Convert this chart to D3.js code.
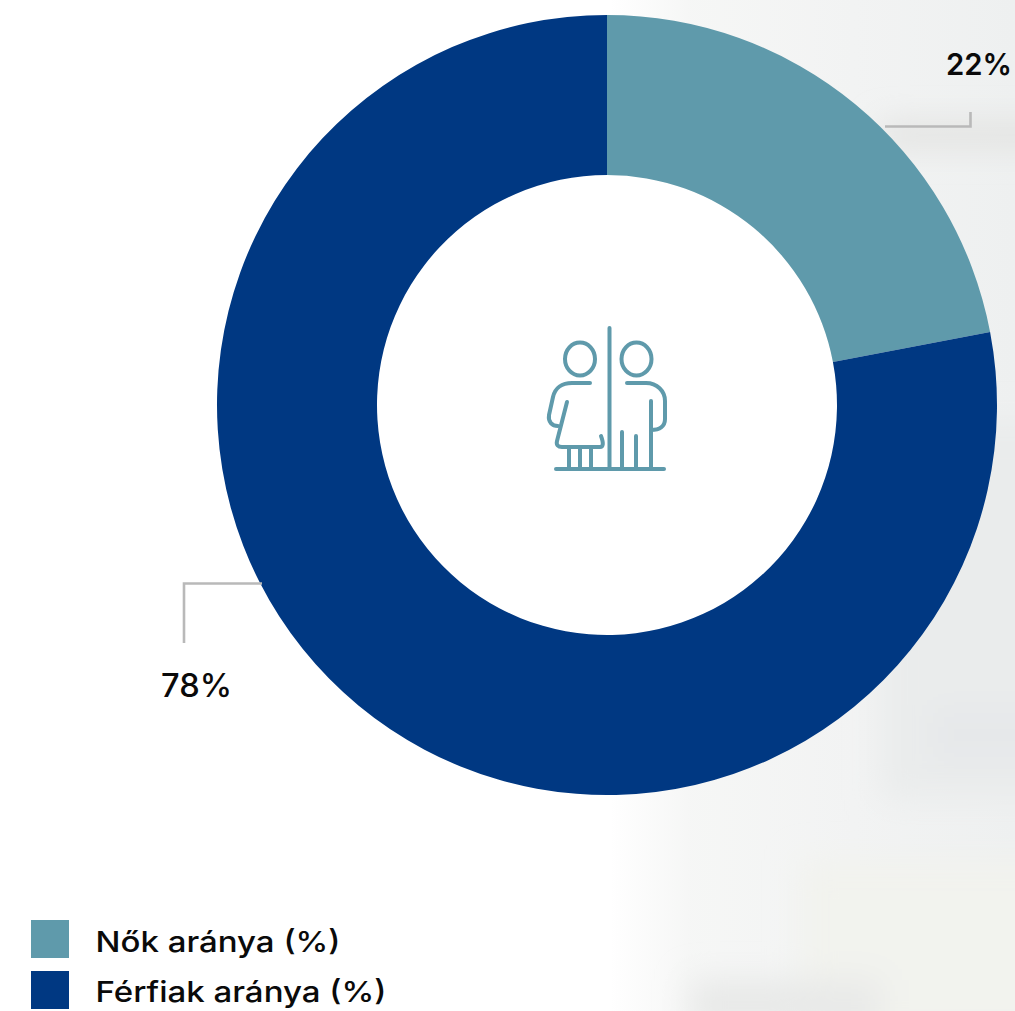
<!DOCTYPE html>
<html>
<head>
<meta charset="utf-8">
<script src="https://cdn.jsdelivr.net/npm/d3@7"></script>
<style>
  html, body { margin: 0; padding: 0; background: #fff; overflow: hidden; }
  text { font-family: "Inter", "Open Sans", sans-serif; fill: #0a0a0a; }
</style>
</head>
<body>
<div id="chart"></div>
<script>
var categories = ['Nők aránya (%)', 'Férfiak aránya (%)']
  , shares = [22, 78]
  , colors = ['#5f9aab', '#003882']
  ;

var w = 1015
  , h = 1011
  , cx = 607
  , cy = 405
  , outer = 390
  , inner = 230
  ;

var svg = d3.select('#chart').append('svg')
            .attr('width', w).attr('height', h)
            .style('display', 'block')
  , defs = svg.append('defs')
  ;

// soft photo-like backdrop on the right
var fade = defs.append('linearGradient').attr('id', 'fade');
fade.append('stop').attr('offset', 0).attr('stop-color', '#f4f5f4').attr('stop-opacity', 0);
fade.append('stop').attr('offset', 0.2).attr('stop-color', '#f4f5f4').attr('stop-opacity', 0.85);
fade.append('stop').attr('offset', 0.6).attr('stop-color', '#f2f3f3').attr('stop-opacity', 1);
fade.append('stop').attr('offset', 1).attr('stop-color', '#eef0f0').attr('stop-opacity', 1);

var blur = defs.append('filter').attr('id', 'blur')
    .attr('x', '-40%').attr('y', '-40%').attr('width', '180%').attr('height', '180%');
blur.append('feGaussianBlur').attr('stdDeviation', 16);

var bg = svg.append('g');
bg.append('rect').attr('x', 610).attr('y', 0).attr('width', 405).attr('height', 1011).attr('fill', 'url(#fade)');

var smudges = bg.append('g').attr('filter', 'url(#blur)');
smudges.append('rect').attr('x', 880).attr('y', 124).attr('width', 180).attr('height', 22).attr('fill', '#e0e0de');
smudges.append('rect').attr('x', 880).attr('y', 420).attr('width', 180).attr('height', 380).attr('fill', '#eaecec');
smudges.append('rect').attr('x', 930).attr('y', 705).attr('width', 110).attr('height', 60).attr('fill', '#e6e8ea');
smudges.append('rect').attr('x', 800).attr('y', 860).attr('width', 260).attr('height', 180).attr('fill', '#f2f3ee');
smudges.append('rect').attr('x', 690).attr('y', 980).attr('width', 190).attr('height', 50).attr('fill', '#e8e9e8');

// donut
var pie = d3.pie().sort(null)
  , arc = d3.arc().innerRadius(inner).outerRadius(outer)
  ;

var chart = svg.append('g').attr('transform', 'translate(' + cx + ',' + cy + ')');

chart.append('circle').attr('r', inner).style('fill', '#fff');

chart.selectAll('path').data(pie(shares)).enter()
  .append('path')
  .attr('d', arc)
  .style('fill', function (d, i) { return colors[i]; });

// callouts
var leader = [
  [[885, 126.5], [970.5, 126.5], [970.5, 112]],
  [[262, 583.5], [184, 583.5], [184, 643]]
];
var line = d3.line();

svg.selectAll('path.leader').data(leader).enter()
  .append('path')
  .attr('class', 'leader')
  .attr('d', line)
  .attr('fill', 'none')
  .attr('stroke', '#b9b9b9')
  .attr('stroke-width', 2.6);

svg.append('text').attr('x', 946).attr('y', 75)
   .attr('font-size', 30).attr('font-weight', 600)
   .attr('textLength', 66).attr('lengthAdjust', 'spacingAndGlyphs')
   .text(shares[0] + '%');
svg.append('text').attr('x', 161).attr('y', 697)
   .attr('font-size', 32).attr('font-weight', 500)
   .attr('textLength', 71).attr('lengthAdjust', 'spacingAndGlyphs')
   .text(shares[1] + '%');

// legend
var legend = svg.selectAll('g.legend').data(categories).enter()
  .append('g')
  .attr('class', 'legend')
  .attr('transform', function (d, i) { return 'translate(31,' + (920 + i * 51) + ')'; });

legend.append('rect').attr('width', 38).attr('height', 38)
      .style('fill', function (d, i) { return colors[i]; });

legend.append('text').attr('x', 64.5).attr('y', function (d, i) { return i === 0 ? 32 : 31; })
      .attr('font-size', 29).attr('font-weight', 500)
      .attr('textLength', function (d, i) { return i === 0 ? 245 : 291; })
      .attr('lengthAdjust', 'spacingAndGlyphs')
      .text(function (d) { return d; });

// centre pictogram
var icon = svg.append('g')
  .attr('fill', 'none')
  .attr('stroke', colors[0])
  .attr('stroke-width', 4)
  .attr('stroke-linecap', 'round')
  .attr('stroke-linejoin', 'round');

icon.append('ellipse').attr('cx', 580).attr('cy', 359).attr('rx', 15).attr('ry', 16.5);
icon.append('ellipse').attr('cx', 636.5).attr('cy', 359).attr('rx', 15).attr('ry', 16.5);

[
  'M609.5 328V468',
  'M556 469H664',
  'M590 383H572C562 383 555 388 553 397L549 415C548 422 552 426 558 426',
  'M567 402L557 441C556 445 558 447 562 447H600C603 447 604 444 601 436',
  'M569 448V468M580 448V468M591 448V468',
  'M627 383H646C657 383 665 391 665 401V419C665 426 660 430 651 430',
  'M651 401V468',
  'M622 432V468M636 436V468'
].forEach(function (d) {
  icon.append('path').attr('d', d);
});
</script>
</body>
</html>
